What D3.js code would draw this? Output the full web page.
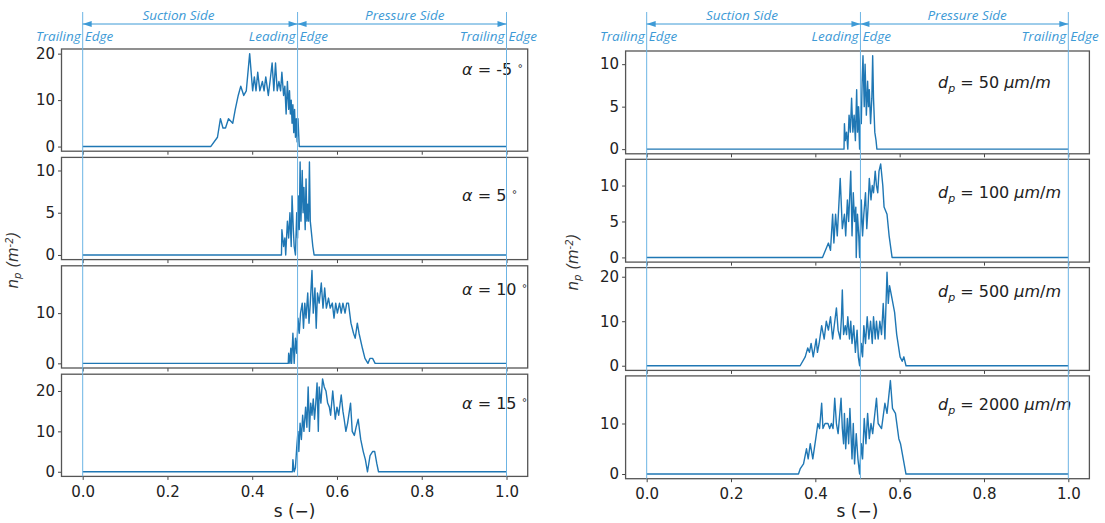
<!DOCTYPE html>
<html>
<head>
<meta charset="utf-8">
<script src="https://cdn.jsdelivr.net/npm/d3@7"></script>
<style>
  body { margin: 0; background: #fff; }
  text { font-family: "DejaVu Sans", sans-serif; fill: #222; }
  .hdr { font-family: "Open Sans", "Noto Sans", sans-serif; font-style: italic; font-size: 13.5px; fill: #3d9ad6; }
</style>
</head>
<body>
<svg id="chart" width="1105" height="523"></svg>
<script>
// ---- data ----
const xTicks = [0, 0.2, 0.4, 0.6, 0.8, 1.0];
const edgeS = [0, 0.507, 1]; // trailing / leading / trailing edge
const sideLabels = ["Suction Side", "Pressure Side"];
const sideS = [0.226, 0.76];
const edgeWords = [["Trailing", "Edge"], ["Leading", "Edge"], ["Trailing", "Edge"]];

const alphaLabels = ["-5", "5", "10", "15"];
const dpLabels = ["50", "100", "500", "2000"];
const alphaYTicks = [[0, 10, 20], [0, 5, 10], [0, 10], [0, 10, 20]];
const dpYTicks = [[0, 5, 10], [0, 5, 10], [0, 10, 20], [0, 10]];

// [s, n_p] pairs
const alphaM5 = [[0,0],[0.302,0],[0.318,2],[0.325,6],[0.331,4],[0.337,4],[0.344,6],[0.354,5],[0.36,8],[0.367,11],
  [0.373,13],[0.38,11],[0.386,12],[0.394,20],[0.401,12],[0.405,15],[0.409,12],[0.413,16],[0.418,12],[0.424,14],
  [0.428,12],[0.432,15],[0.438,11],[0.442,14],[0.447,18],[0.451,12],[0.455,18],[0.459,12],[0.463,14],[0.467,12],
  [0.47,16],[0.474,11],[0.477,13],[0.48,7],[0.483,14],[0.486,8],[0.488,12],[0.49,7],[0.492,10],[0.494,5],
  [0.496,9],[0.498,3],[0.5,8],[0.502,2],[0.504,6],[0.506,1],[0.508,6],[0.511,0],[1,0]];
const alpha5 = [[0,0],[0.469,0],[0.47,3],[0.474,1],[0.477,2],[0.479,0],[0.483,4],[0.486,2],[0.489,5],[0.492,1],
  [0.494,7],[0.497,3],[0.499,1],[0.502,0],[0.505,5],[0.507,2],[0.509,7],[0.511,3],[0.513,11],[0.515,4],[0.518,10],
  [0.52,5],[0.522,8],[0.525,3],[0.527,9],[0.529,4],[0.531,6],[0.533,4],[0.535,11],[0.537,4],[0.539,3],[0.543,1],
  [0.546,0],[1,0]];
const alpha10 = [[0,0],[0.485,0],[0.486,2],[0.489,0],[0.491,3],[0.493,0],[0.496,6],[0.499,0],[0.502,5],[0.505,2],
  [0.508,9],[0.511,6],[0.514,10],[0.518,12],[0.521,7],[0.524,12],[0.527,9],[0.531,14],[0.534,8],[0.537,12],
  [0.541,18.5],[0.544,10],[0.548,15],[0.551,7],[0.554,14],[0.558,12],[0.563,16],[0.567,11],[0.571,15],[0.575,11],
  [0.58,13],[0.584,11],[0.589,12],[0.593,9],[0.597,12],[0.601,10],[0.606,12],[0.61,10],[0.614,12],[0.619,10],
  [0.623,12],[0.627,12],[0.633,8],[0.639,6],[0.643,5],[0.648,8],[0.652,6],[0.66,3],[0.666,1],[0.673,0],
  [0.678,1],[0.684,1],[0.69,0],[1,0]];
const alpha15 = [[0,0],[0.495,0],[0.496,3],[0.499,0],[0.502,1],[0.505,6],[0.508,10],[0.51,5],[0.513,12],[0.516,8],
  [0.519,14],[0.522,10],[0.526,16],[0.529,11],[0.532,21],[0.535,10],[0.538,17],[0.541,14],[0.544,18],[0.547,13],
  [0.55,17],[0.553,22],[0.556,10],[0.558,21],[0.562,17],[0.566,23],[0.57,21],[0.574,20],[0.578,17],[0.582,16],
  [0.585,14],[0.59,20],[0.596,13],[0.6,16],[0.604,14],[0.61,19],[0.614,15],[0.617,13],[0.621,10],[0.625,12],
  [0.632,17],[0.636,10],[0.641,9],[0.645,11],[0.65,13],[0.656,8],[0.662,5],[0.667,3],[0.672,0],[0.678,4],
  [0.684,5],[0.689,5],[0.694,2],[0.698,0],[1,0]];

const dp50 = [[0,0],[0.468,0],[0.469,3],[0.471,1],[0.474,2],[0.477,0],[0.48,4],[0.483,2],[0.486,6],[0.489,2],
  [0.492,4],[0.495,1],[0.498,7],[0.5,2],[0.502,5],[0.505,0],[0.507,5],[0.509,3],[0.511,8],[0.513,11],[0.516,5],
  [0.518,10],[0.521,4],[0.524,8],[0.526,5],[0.528,7],[0.531,3],[0.534,6],[0.536,11],[0.538,6],[0.541,2],
  [0.544,1],[0.546,0],[1,0]];
const dp100 = [[0,0],[0.417,0],[0.424,1],[0.431,2],[0.436,1],[0.441,6],[0.444,2],[0.448,6],[0.452,3],[0.459,11],
  [0.464,4],[0.469,6],[0.472,3],[0.476,8],[0.479,5],[0.484,12],[0.487,3],[0.49,9],[0.493,5],[0.496,7],[0.497,0],
  [0.5,6],[0.503,3],[0.505,0],[0.509,8],[0.512,3],[0.515,6],[0.519,9],[0.522,4],[0.525,7],[0.528,11],[0.532,8],
  [0.535,10],[0.538,9],[0.542,12],[0.545,10],[0.548,9],[0.551,12],[0.555,13],[0.56,10],[0.563,7],[0.57,6],
  [0.575,3],[0.582,0],[1,0]];
const dp500 = [[0,0],[0.364,0],[0.376,2],[0.382,4],[0.386,3],[0.39,5],[0.395,2],[0.402,6],[0.405,3],[0.409,5],
  [0.415,9],[0.421,6],[0.426,10],[0.431,8],[0.436,11],[0.441,6],[0.45,13],[0.454,8],[0.459,6],[0.462,11],
  [0.464,17],[0.467,7],[0.471,9],[0.474,7],[0.477,11],[0.481,6],[0.484,10],[0.487,5],[0.491,9],[0.495,3],
  [0.499,8],[0.502,2],[0.505,0],[0.509,5],[0.512,2],[0.515,9],[0.519,5],[0.523,11],[0.527,6],[0.531,10],
  [0.535,5],[0.538,11],[0.542,6],[0.545,10],[0.549,6],[0.553,10],[0.557,7],[0.561,14],[0.565,6],[0.57,21],
  [0.573,14],[0.576,18],[0.582,15],[0.588,12],[0.593,7],[0.601,2],[0.606,1],[0.61,2],[0.615,0],[1,0]];
const dp2000 = [[0,0],[0.36,0],[0.364,1],[0.372,2],[0.379,5],[0.383,3],[0.388,6],[0.394,3],[0.401,7],[0.406,10],
  [0.41,9],[0.415,14],[0.418,9],[0.423,10],[0.43,10],[0.434,9],[0.438,10],[0.442,9],[0.446,15],[0.45,10],
  [0.454,8],[0.461,15],[0.464,9],[0.467,6],[0.469,12],[0.472,5],[0.476,11],[0.479,6],[0.482,13],[0.487,3],
  [0.49,10],[0.493,2],[0.497,8],[0.501,3],[0.505,0],[0.509,6],[0.512,3],[0.516,11],[0.52,6],[0.524,12],
  [0.528,7],[0.532,10],[0.536,8],[0.545,15],[0.549,10],[0.557,9],[0.565,14],[0.57,12],[0.578,18.5],[0.583,13],
  [0.59,12],[0.598,7],[0.602,6],[0.615,0],[1,0]];

const alphaSeries = [alphaM5, alpha5, alpha10, alpha15];
const dpSeries = [dp50, dp100, dp500, dp2000];

const svg = d3.select("#chart");
const lineColor = "#1f77b4";
const edgeColor = "#6cb4e4";
const hdrColor = "#3d9ad6";

// one figure = 4 stacked panels sharing x
function drawFigure(cfg) {
  let g = svg.append("g");
  let x = d3.scaleLinear().domain([-0.05, 1.05]).range([cfg.left, cfg.right]);
  let last = cfg.series.length - 1;
  let bottomAll = cfg.top + last * (cfg.h + cfg.gap) + cfg.h;

  cfg.series.forEach((data, i) => {
    let top = cfg.top + i * (cfg.h + cfg.gap);
    let m = d3.max(data, (d) => d[1]);
    let y = d3.scaleLinear().domain([-0.05 * m, 1.05 * m]).range([top + cfg.h, top]);
    let p = g.append("g");

    // data line
    p.append("path")
      .datum(data)
      .attr("fill", "none")
      .attr("stroke", lineColor)
      .attr("stroke-width", 1.4)
      .attr("stroke-linejoin", "round")
      .attr("d", d3.line().x((d) => x(d[0])).y((d) => y(d[1])));

    // y axis
    let ya = p.append("g")
      .attr("transform", `translate(${cfg.left},0)`)
      .call(d3.axisLeft(y).tickValues(cfg.yTicks[i]).tickSize(3.5).tickPadding(3).tickFormat(d3.format("d")));
    ya.select(".domain").remove();
    ya.selectAll("line").attr("stroke", "#444");
    ya.selectAll("text").attr("font-size", 15).attr("fill", "#222").attr("font-family", "DejaVu Sans, sans-serif");

    // x axis ticks (labels only on the bottom panel)
    let xa = p.append("g")
      .attr("transform", `translate(0,${top + cfg.h})`)
      .call(d3.axisBottom(x).tickValues(xTicks).tickSize(3.5).tickPadding(6).tickFormat(i === last ? d3.format(".1f") : () => ""));
    xa.select(".domain").remove();
    xa.selectAll("line").attr("stroke", "#444");
    xa.selectAll("text").attr("font-size", 15).attr("fill", "#222").attr("font-family", "DejaVu Sans, sans-serif");

    // frame
    p.append("rect")
      .attr("x", cfg.left).attr("y", top)
      .attr("width", cfg.right - cfg.left).attr("height", cfg.h)
      .attr("fill", "none").attr("stroke", "#555").attr("stroke-width", 1.3);

    // annotation
    let t = p.append("text")
      .attr("x", cfg.noteX)
      .attr("y", top + cfg.noteDy[i] + 5)
      .attr("font-size", 16);
    cfg.note(t, cfg.labels[i]);
  });

  // edge lines over all panels
  edgeS.forEach((s) => {
    g.append("line")
      .attr("x1", x(s)).attr("x2", x(s))
      .attr("y1", 12).attr("y2", bottomAll)
      .attr("stroke", edgeColor).attr("stroke-width", 1);
  });

  // header arrows + side labels
  let ay = 24;
  for (let k = 0; k < 2; k++) {
    let xa = x(edgeS[k]), xb = x(edgeS[k + 1]);
    g.append("line")
      .attr("x1", xa).attr("x2", xb).attr("y1", ay).attr("y2", ay)
      .attr("stroke", hdrColor).attr("stroke-width", 1);
    g.append("path")
      .attr("d", `M${xa},${ay} L${xa + 9},${ay - 3} L${xa + 9},${ay + 3} Z`)
      .attr("fill", hdrColor);
    g.append("path")
      .attr("d", `M${xb},${ay} L${xb - 9},${ay - 3} L${xb - 9},${ay + 3} Z`)
      .attr("fill", hdrColor);
    g.append("text").attr("class", "hdr")
      .attr("x", x(sideS[k])).attr("y", 20)
      .attr("text-anchor", "middle")
      .text(sideLabels[k]);
  }
  edgeS.forEach((s, k) => {
    g.append("text").attr("class", "hdr")
      .attr("x", x(s) - 2).attr("y", 41).attr("text-anchor", "end")
      .text(edgeWords[k][0]);
    g.append("text").attr("class", "hdr")
      .attr("x", x(s) + 2).attr("y", 41)
      .text(edgeWords[k][1]);
  });

  // axis labels
  g.append("text")
    .attr("x", (cfg.left + cfg.right) / 2).attr("y", 517)
    .attr("text-anchor", "middle").attr("font-size", 17)
    .text("s (\u2212)");

  let yl = g.append("text")
    .attr("transform", `translate(${cfg.ylabelX},${cfg.ylabelY}) rotate(-90)`)
    .attr("text-anchor", "middle").attr("font-size", 15)
    .attr("font-style", "italic").style("fill", "#333");
  yl.append("tspan").text("n");
  yl.append("tspan").attr("font-size", 10).attr("dy", 3).text("p");
  yl.append("tspan").attr("dy", -3).text(" (m");
  yl.append("tspan").attr("font-size", 10).attr("dy", -5).text("-2");
  yl.append("tspan").attr("dy", 5).text(")");
}

function alphaNote(t, v) {
  t.append("tspan").attr("font-style", "italic").text("\u03b1");
  t.append("tspan").text(` = ${v} `);
  t.append("tspan").attr("font-size", 10).attr("dy", -6).text("\u2218");
}
function dpNote(t, v) {
  t.append("tspan").attr("font-style", "italic").text("d");
  t.append("tspan").attr("font-style", "italic").attr("font-size", 11).attr("dy", 4).text("p");
  t.append("tspan").attr("dy", -4).text(` = ${v} `);
  t.append("tspan").attr("font-style", "italic").text("\u03bcm");
  t.append("tspan").text("/");
  t.append("tspan").attr("font-style", "italic").text("m");
}

drawFigure({
  series: alphaSeries, labels: alphaLabels, yTicks: alphaYTicks, note: alphaNote,
  left: 61.5, right: 527.7, top: 49, h: 102.2, gap: 6.2,
  noteX: 462, noteDy: [21, 39, 24, 30], ylabelX: 18, ylabelY: 260
});
drawFigure({
  series: dpSeries, labels: dpLabels, yTicks: dpYTicks, note: dpNote,
  left: 625.6, right: 1089.4, top: 51, h: 102.8, gap: 5.5,
  noteX: 938, noteDy: [32, 34, 24, 29], ylabelX: 578, ylabelY: 262
});
</script>
</body>
</html>
